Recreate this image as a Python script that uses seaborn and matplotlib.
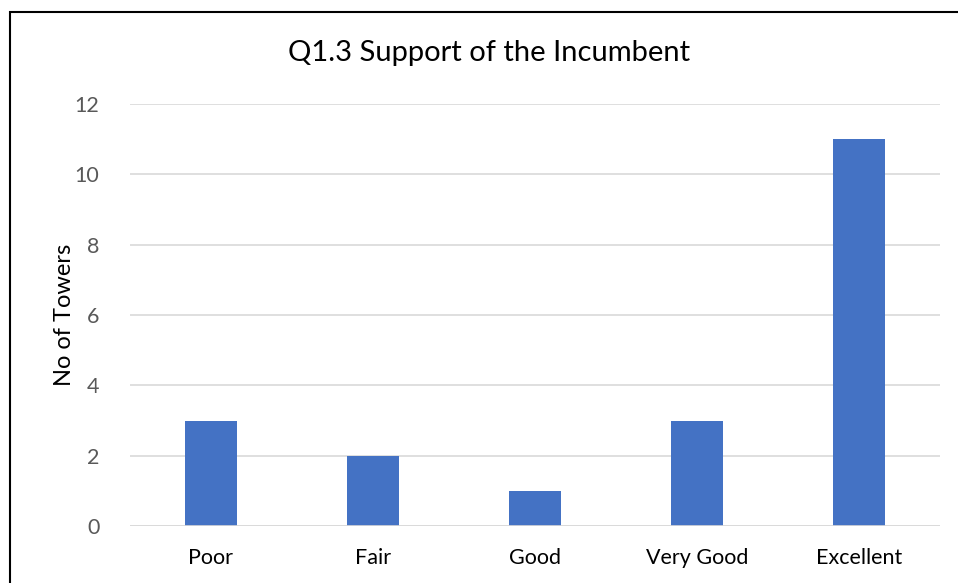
import matplotlib
matplotlib.use("Agg")
import matplotlib.pyplot as plt
import seaborn as sns
import pandas as pd
from matplotlib.patches import Rectangle

categories = ["Poor", "Fair", "Good", "Very Good", "Excellent"]
values = [3, 2, 1, 3, 11]
yticks = [0, 2, 4, 6, 8, 10, 12]

sns.set_theme(style="white")
plt.rcParams['font.family'] = ['Lato', 'DejaVu Sans']

df = pd.DataFrame({"cat": categories, "val": values})

W, H = 958, 583
fig = plt.figure(figsize=(W / 100, H / 100), dpi=100)
ax = fig.add_axes([130 / W, 1 - 526 / H, 810 / W, 422 / H])

sns.barplot(data=df, x="cat", y="val", color="#4472C4", width=0.315,
            saturation=1, ax=ax, zorder=3, linewidth=0)

ax.set_ylim(0, 12)
ax.set_xlim(-0.5, 4.5)
ax.set_yticks(yticks)
ax.set_yticklabels([str(t) for t in yticks], color="#595959", fontsize=15.5)
ax.tick_params(axis="x", labelsize=15.5, labelcolor="black", length=0, pad=16)
ax.tick_params(axis="y", length=0, pad=22)
ax.grid(axis="y", color="#D9D9D9", linewidth=1.2, zorder=0)
for s in ax.spines.values():
    s.set_visible(False)
ax.axhline(0, color="#D9D9D9", linewidth=1.2, zorder=4)
ax.set_xlabel("")
ax.set_ylabel("No of Towers", fontsize=17, color="black", labelpad=0)

fig.text(489 / W, 1 - 53 / H, "Q1.3 Support of the Incumbent", ha="center",
         va="center", fontsize=21, color="black")

fig.patches.append(Rectangle((10 / W, -0.1), 1.0, 1 - 12 / H + 0.1,
                             transform=fig.transFigure, fill=False,
                             edgecolor="black", linewidth=1.5))

fig.savefig("out.png", dpi=100)
